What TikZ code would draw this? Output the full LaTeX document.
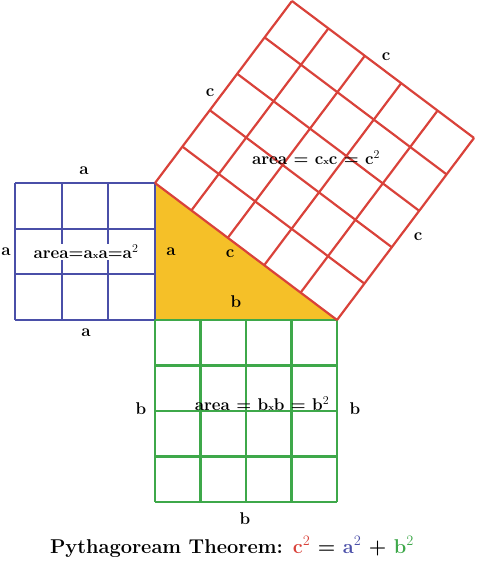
\documentclass[tikz,border=0pt]{standalone}
\usetikzlibrary{calc}
\begin{document}
\begin{tikzpicture}[x=1pt,y=-1pt,
  lab/.style={font=\bfseries\fontsize{17}{20}\selectfont},
  sq/.style={line width=2.2pt}]
\definecolor{rd}{HTML}{D9423A}\definecolor{bl}{HTML}{4A4FA8}
\definecolor{gr}{HTML}{3EA84A}\definecolor{yl}{HTML}{F5C028}
\useasboundingbox (0,0) rectangle (476,564);
\coordinate (A) at (155,183);\coordinate (B) at (155,320);\coordinate (C) at (337,320);
\fill[yl] (A)--(B)--(C)--cycle;
% blue
\foreach \i in {0,...,3}{
 \draw[bl,sq] (15+\i*140/3,183)--(15+\i*140/3,320);
 \draw[bl,sq] (15,183+\i*137/3)--(155,183+\i*137/3);}
% green
\foreach \i in {0,...,4}{
 \draw[gr,sq] (155+\i*182/4,320)--(155+\i*182/4,502);
 \draw[gr,sq] (155,320+\i*182/4)--(337,320+\i*182/4);}
% red
\foreach \i in {0,...,5}{
 \draw[rd,sq] ($(A)!\i/5!(C)$) -- ++(137,-182);
 \draw[rd,sq] ($(A)+\i/5*(137,-182)$) -- ++(182,137);}
\node[lab] (la1) at (84,171) {a};
\node[lab] (la2) at (6,252) {a};
\node[lab] (la3) at (171,252) {a};
\node[lab] (la4) at (86,333) {a};
\node[lab,fill=white,inner sep=0.5pt] (aa) at (86,252) {area=a{\small x}a=a$^2$};
\node[lab] (lc0) at (230,254) {c};
\node[lab] (lb0) at (236,302) {b};
\node[lab] (lb1) at (141,409) {b};
\node[lab] (lb2) at (355,409) {b};
\node[lab] (lb3) at (245,519) {b};
\node[lab] (ab) at (262,404) {area = b{\small x}b = b$^2$};
\node[lab] (lc1) at (210,93) {c};
\node[lab] (lc2) at (386,57) {c};
\node[lab] (lc3) at (418,237) {c};
\node[lab] (ac) at (316,158) {area = c{\small x}c = c$^2$};
\node[font=\bfseries\fontsize{20}{24}\selectfont] (t) at (232,547) {Pythagoream Theorem: \textcolor{rd}{c$^2$} = \textcolor{bl}{a$^2$} + \textcolor{gr}{b$^2$}};
\end{tikzpicture}
\end{document}
